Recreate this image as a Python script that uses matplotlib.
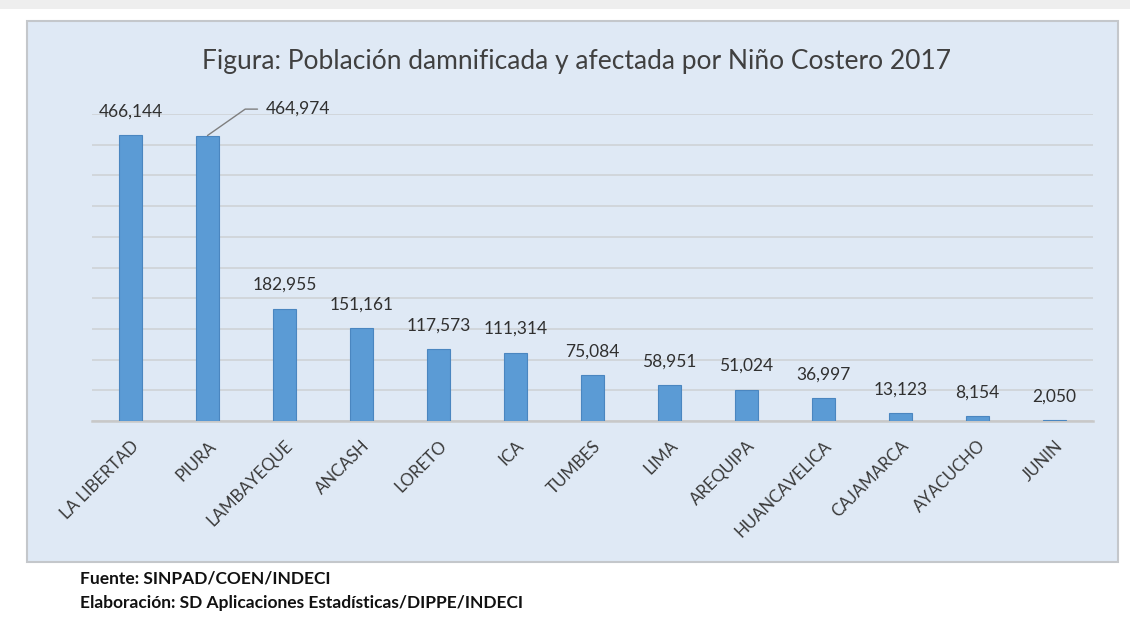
import matplotlib
matplotlib.use("Agg")
import matplotlib.pyplot as plt
from matplotlib.patches import Rectangle

plt.rcParams['font.family'] = ['Lato', 'DejaVu Sans']

regions = ["LA LIBERTAD", "PIURA", "LAMBAYEQUE", "ANCASH", "LORETO", "ICA", "TUMBES",
           "LIMA", "AREQUIPA", "HUANCAVELICA", "CAJAMARCA", "AYACUCHO", "JUNIN"]
values = [466144, 464974, 182955, 151161, 117573, 111314, 75084,
          58951, 51024, 36997, 13123, 8154, 2050]
title = "Figura: Población damnificada y afectada por Niño Costero 2017"
footer = ["Fuente: SINPAD/COEN/INDECI",
          "Elaboración: SD Aplicaciones Estadísticas/DIPPE/INDECI"]

W, H = 1130, 622
fig = plt.figure(figsize=(W / 100, H / 100), dpi=100)
fig.patch.set_facecolor("white")

def fx(px):
    return px / W

def fy(py):
    return 1 - py / H

# top grey strip
fig.patches.append(Rectangle((0, fy(9)), 1, 9 / H, transform=fig.transFigure,
                             facecolor="#eeeeee", edgecolor="none", zorder=-10))
# chart box
fig.patches.append(Rectangle((fx(27), fy(562)), fx(1118 - 27), (562 - 21) / H,
                             transform=fig.transFigure, facecolor="#dfe9f5",
                             edgecolor="#c4c7cb", linewidth=1.5, zorder=-10))

ax = fig.add_axes([fx(92), fy(421), fx(1093 - 92), (421 - 114) / H])
ax.set_zorder(1)
ax.set_facecolor("none")
x = list(range(len(regions)))
ax.bar(x, values, width=0.3, color="#5b9bd5", edgecolor="#4a86c0", linewidth=0.8, zorder=3)
ax.set_xlim(-0.5, len(regions) - 0.5)
ax.set_ylim(0, 500000)
ax.set_yticks(range(0, 500001, 50000))
ax.yaxis.grid(True, color="#cfd3d6", linewidth=1.2, zorder=0)
ax.set_axisbelow(True)
ax.tick_params(axis="y", left=False, labelleft=False)
ax.tick_params(axis="x", length=0, pad=12)
for s in ["top", "right", "left"]:
    ax.spines[s].set_visible(False)
ax.spines["bottom"].set_color("#c8c8c8")
ax.spines["bottom"].set_linewidth(1.8)
ax.set_xticks(x)
ax.set_xticklabels(regions, rotation=45, ha="right", rotation_mode="anchor",
                   fontsize=12.2, color="#3a3a3a")

for i, v in enumerate(values):
    if regions[i] == "PIURA":
        ax.annotate(f"{v:,}", xy=(i, v), xytext=(42, 19), textcoords="offset points",
                    ha="left", va="center", fontsize=12.5, color="#303030",
                    arrowprops=dict(arrowstyle="-", color="#7f7f7f", linewidth=1,
                                    connectionstyle="angle,angleA=0,angleB=35,rad=0",
                                    shrinkA=4, shrinkB=0),
                    annotation_clip=False)
    else:
        ax.annotate(f"{v:,}", xy=(i, v), xytext=(0, 17), textcoords="offset points",
                    ha="center", va="center", fontsize=12.5, color="#303030",
                    annotation_clip=False)

fig.text(fx(576), fy(62), title, ha="center", va="center", fontsize=19, color="#404040")
fig.text(fx(80), fy(578), footer[0], ha="left", va="center", fontsize=12.5,
         color="#111111", fontweight="bold")
fig.text(fx(80), fy(603), footer[1], ha="left", va="center", fontsize=12.5,
         color="#111111", fontweight="bold")

fig.savefig("out.png", dpi=100)
